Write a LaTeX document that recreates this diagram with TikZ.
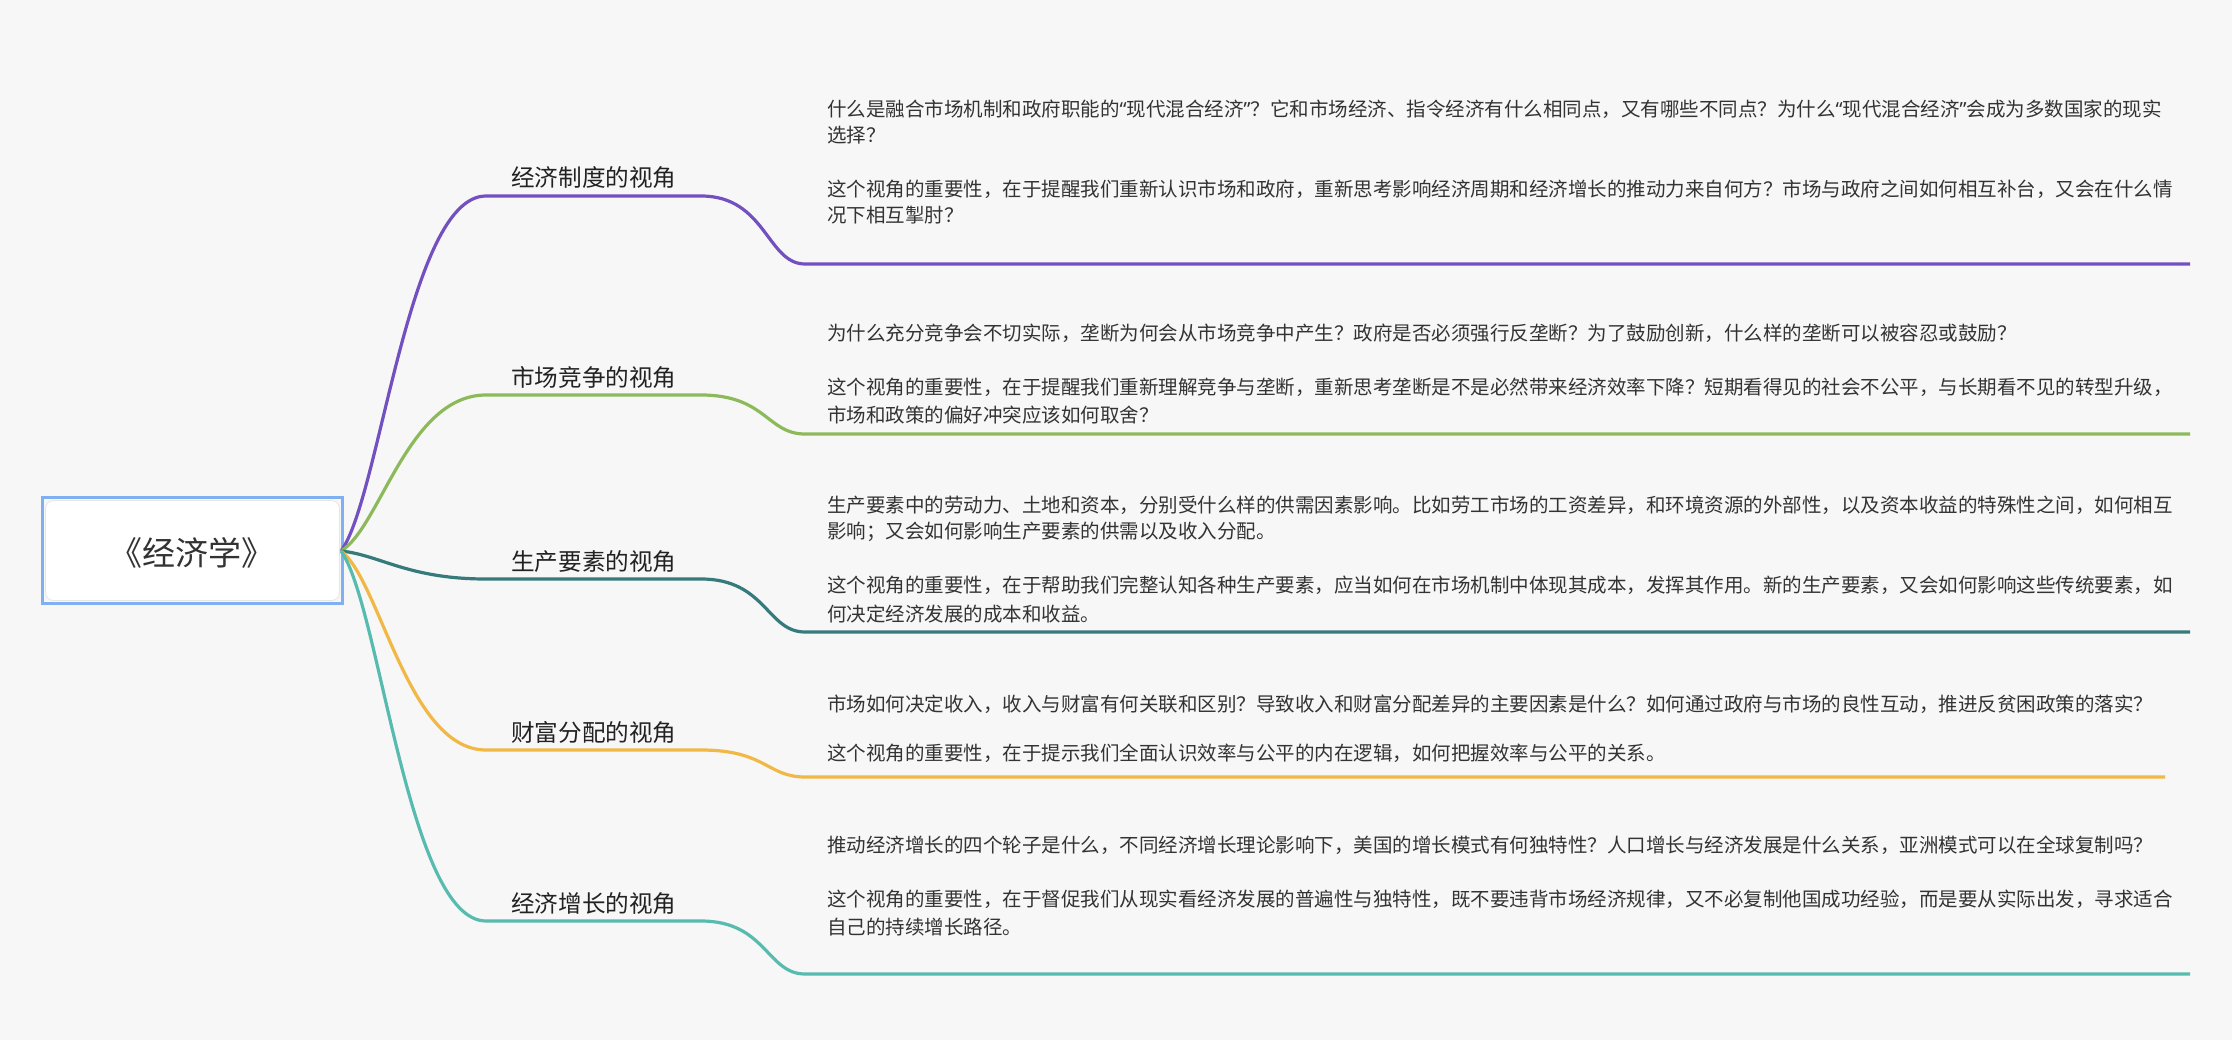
\documentclass[tikz,border=0pt]{standalone}
\usepackage{fontspec}
\setmainfont{Noto Sans CJK SC}
\newfontfamily\qf{Noto Sans}
\newcommand{\oq}{{\qf “}}
\newcommand{\cq}{{\qf ”}}
\definecolor{bgc}{HTML}{F7F7F7}
\definecolor{boxc}{HTML}{80B0F2}
\definecolor{shadowc}{HTML}{E6E6E6}
\definecolor{textc}{HTML}{333333}
\definecolor{lblc}{HTML}{222222}
\definecolor{rootc}{HTML}{333333}
\definecolor{cPurple}{HTML}{7350C0}
\definecolor{cGreen}{HTML}{8CBA5A}
\definecolor{cTeal}{HTML}{367A7C}
\definecolor{cYellow}{HTML}{F2B846}
\definecolor{cAqua}{HTML}{58BBB0}
\begin{document}
\begin{tikzpicture}[x=1pt,y=-1pt,
  txt/.style={anchor=base west,inner sep=0pt,text=textc,font=\fontsize{19.5}{24}\selectfont},
  lbl/.style={anchor=base west,inner sep=0pt,text=lblc,font=\fontsize{23.6}{28}\selectfont},
  br/.style={line width=3.2pt}]
\fill[bgc] (0,0) rectangle (2232,1040);
\useasboundingbox (0,0) rectangle (2232,1040);

% root
\node[fill=white,draw=shadowc,line width=0.8pt,rounded corners=8pt,minimum width=294pt,minimum height=100pt,inner sep=0pt] (rootbg) at (192.5,550.5) {};
\node[draw=boxc,line width=3pt,minimum width=300pt,minimum height=106pt,inner sep=0pt] (rootframe) at (192.5,550.5) {};
\node[anchor=base,inner sep=0pt,text=rootc,font=\fontsize{33}{38}\selectfont] (root) at (192,565) {《经济学》};
\coordinate (hub) at (341,551);

% branch 1
\coordinate (a1) at (486,196); \coordinate (b1) at (701,196);
\coordinate (c1) at (805,264); \coordinate (d1) at (2190,264);
\draw[br,cPurple] (hub) .. controls (380,499) and (408,196) .. (a1) -- (b1) .. controls (766,196) and (767,264) .. (c1) -- (d1);
\node[lbl] (l1) at (511,187) {经济制度的视角};

% branch 2
\coordinate (a2) at (486,395); \coordinate (b2) at (701,395);
\coordinate (c2) at (805,434); \coordinate (d2) at (2190,434);
\draw[br,cGreen] (hub) .. controls (380,528) and (408,395) .. (a2) -- (b2) .. controls (766,395) and (767,434) .. (c2) -- (d2);
\node[lbl] (l2) at (511,386) {市场竞争的视角};

% branch 3
\coordinate (a3) at (486,579); \coordinate (b3) at (701,579);
\coordinate (c3) at (805,632); \coordinate (d3) at (2190,632);
\draw[br,cTeal] (hub) .. controls (380,555) and (408,579) .. (a3) -- (b3) .. controls (766,579) and (767,632) .. (c3) -- (d3);
\node[lbl] (l3) at (511,570) {生产要素的视角};

% branch 4
\coordinate (a4) at (486,750); \coordinate (b4) at (701,750);
\coordinate (c4) at (805,777); \coordinate (d4) at (2165,777);
\draw[br,cYellow] (hub) .. controls (380,580) and (408,750) .. (a4) -- (b4) .. controls (766,750) and (767,777) .. (c4) -- (d4);
\node[lbl] (l4) at (511,741) {财富分配的视角};

% branch 5
\coordinate (a5) at (486,921); \coordinate (b5) at (701,921);
\coordinate (c5) at (805,974); \coordinate (d5) at (2190,974);
\draw[br,cAqua] (hub) .. controls (380,605) and (408,921) .. (a5) -- (b5) .. controls (766,921) and (767,974) .. (c5) -- (d5);
\node[lbl] (l5) at (511,912) {经济增长的视角};

% texts 1
\node[txt] (t11) at (827,117) {什么是融合市场机制和政府职能的\oq 现代混合经济\cq ？它和市场经济、指令经济有什么相同点，又有哪些不同点？为什么\oq 现代混合经济\cq 会成为多数国家的现实};
\node[txt] (t12) at (827,143) {选择？};
\node[txt] (t13) at (827,197) {这个视角的重要性，在于提醒我们重新认识市场和政府，重新思考影响经济周期和经济增长的推动力来自何方？市场与政府之间如何相互补台，又会在什么情};
\node[txt] (t14) at (827,223) {况下相互掣肘？};

% texts 2
\node[txt] (t21) at (827,341) {为什么充分竞争会不切实际，垄断为何会从市场竞争中产生？政府是否必须强行反垄断？为了鼓励创新，什么样的垄断可以被容忍或鼓励？};
\node[txt] (t22) at (827,395) {这个视角的重要性，在于提醒我们重新理解竞争与垄断，重新思考垄断是不是必然带来经济效率下降？短期看得见的社会不公平，与长期看不见的转型升级，};
\node[txt] (t23) at (827,422) {市场和政策的偏好冲突应该如何取舍？};

% texts 3
\node[txt] (t31) at (827,512) {生产要素中的劳动力、土地和资本，分别受什么样的供需因素影响。比如劳工市场的工资差异，和环境资源的外部性，以及资本收益的特殊性之间，如何相互};
\node[txt] (t32) at (827,538.5) {影响；又会如何影响生产要素的供需以及收入分配。};
\node[txt] (t33) at (827,592.5) {这个视角的重要性，在于帮助我们完整认知各种生产要素，应当如何在市场机制中体现其成本，发挥其作用。新的生产要素，又会如何影响这些传统要素，如};
\node[txt] (t34) at (827,621) {何决定经济发展的成本和收益。};

% texts 4
\node[txt] (t41) at (827,711) {市场如何决定收入，收入与财富有何关联和区别？导致收入和财富分配差异的主要因素是什么？如何通过政府与市场的良性互动，推进反贫困政策的落实？};
\node[txt] (t42) at (827,760) {这个视角的重要性，在于提示我们全面认识效率与公平的内在逻辑，如何把握效率与公平的关系。};

% texts 5
\node[txt] (t51) at (827,852) {推动经济增长的四个轮子是什么，不同经济增长理论影响下，美国的增长模式有何独特性？人口增长与经济发展是什么关系，亚洲模式可以在全球复制吗？};
\node[txt] (t52) at (827,906.5) {这个视角的重要性，在于督促我们从现实看经济发展的普遍性与独特性，既不要违背市场经济规律，又不必复制他国成功经验，而是要从实际出发，寻求适合};
\node[txt] (t53) at (827,934) {自己的持续增长路径。};
\end{tikzpicture}
\end{document}
